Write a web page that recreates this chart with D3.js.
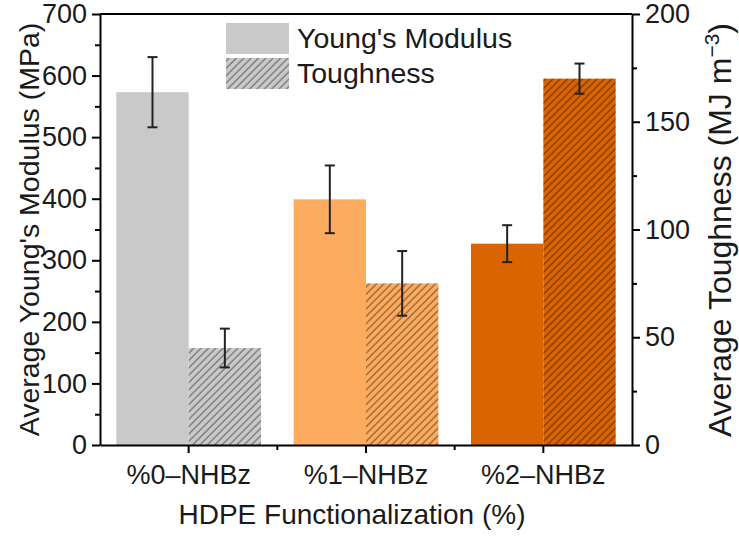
<!DOCTYPE html>
<html>
<head>
<meta charset="utf-8">
<script src="https://cdn.jsdelivr.net/npm/d3@7"></script>
<style>
  body { margin: 0; background: #fff; }
  text { font-family: "Liberation Sans", Arial, sans-serif; fill: #1a1a1a; }
</style>
</head>
<body>
<svg id="chart"></svg>
<script>
// data
const categories = ['%0–NHBz', '%1–NHBz', '%2–NHBz']
const modulus = [573, 399, 327]
const modulusErr = [57, 55, 30]
const toughness = [45, 75, 170]
const toughnessErr = [9, 15, 7]
const colors = ['#c9c9c9', '#fdab5f', '#d96400']
const leftTicks = [0, 100, 200, 300, 400, 500, 600, 700]
const rightTicks = [0, 50, 100, 150, 200]

const width = 739, height = 538
const margin = { top: 14, right: 107, bottom: 93, left: 100 }
const innerWidth = width - margin.left - margin.right
const innerHeight = height - margin.top - margin.bottom

const svg = d3.select('#chart')
  .attr('width', width)
  .attr('height', height)

// hatch patterns, one per colour
const step = 5.2
const defs = svg.append('defs')
colors.forEach((c, i) => {
  const p = defs.append('pattern')
    .attr('id', 'hatch' + i)
    .attr('patternUnits', 'userSpaceOnUse')
    .attr('width', step)
    .attr('height', step)
    .attr('patternTransform', 'rotate(45)')
  p.append('rect').attr('width', step).attr('height', step).attr('fill', c)
  p.append('line')
    .attr('x1', 1).attr('x2', 1).attr('y1', 0).attr('y2', step)
    .attr('stroke', 'rgba(0,0,0,0.42)')
    .attr('stroke-width', 1.3)
})

const g = svg.append('g')
  .attr('transform', `translate(${margin.left},${margin.top})`)

// scales
const x0 = d3.scaleBand()
  .domain(categories)
  .range([0, innerWidth])
  .padding(0)

const bw = x0.bandwidth()
const x1 = d3.scaleBand()
  .domain(['modulus', 'toughness'])
  .range([bw * 0.092, bw * 0.908])
  .padding(0)

const yLeft = d3.scaleLinear().domain([0, 700]).range([innerHeight, 0])
const yRight = d3.scaleLinear().domain([0, 200]).range([innerHeight, 0])

// bars
const groups = g.selectAll('.grp')
  .data(categories)
  .join('g')
  .attr('class', 'grp')
  .attr('transform', d => `translate(${x0(d)},0)`)

groups.append('rect')
  .attr('x', x1('modulus'))
  .attr('width', x1.bandwidth())
  .attr('y', (d, i) => yLeft(modulus[i]))
  .attr('height', (d, i) => innerHeight - yLeft(modulus[i]))
  .attr('fill', (d, i) => colors[i])

groups.append('rect')
  .attr('x', x1('toughness'))
  .attr('width', x1.bandwidth())
  .attr('y', (d, i) => yRight(toughness[i]))
  .attr('height', (d, i) => innerHeight - yRight(toughness[i]))
  .attr('fill', (d, i) => `url(#hatch${i})`)

// error bars
function errorBar(sel, xPos, yScale, vals, errs) {
  const cap = 5
  const eb = sel.append('g').attr('stroke', '#222').attr('stroke-width', 2)
  eb.append('line')
    .attr('x1', xPos).attr('x2', xPos)
    .attr('y1', (d, i) => yScale(vals[i] + errs[i]))
    .attr('y2', (d, i) => yScale(vals[i] - errs[i]))
  eb.append('line')
    .attr('x1', xPos - cap).attr('x2', xPos + cap)
    .attr('y1', (d, i) => yScale(vals[i] + errs[i]))
    .attr('y2', (d, i) => yScale(vals[i] + errs[i]))
  eb.append('line')
    .attr('x1', xPos - cap).attr('x2', xPos + cap)
    .attr('y1', (d, i) => yScale(vals[i] - errs[i]))
    .attr('y2', (d, i) => yScale(vals[i] - errs[i]))
}
errorBar(groups, x1('modulus') + x1.bandwidth() / 2, yLeft, modulus, modulusErr)
errorBar(groups, x1('toughness') + x1.bandwidth() / 2, yRight, toughness, toughnessErr)

// axes
const axisStyle = a => {
  a.select('.domain').attr('stroke', '#000').attr('stroke-width', 2)
  a.selectAll('.tick line').attr('stroke', '#000').attr('stroke-width', 2)
  a.selectAll('.tick text')
    .style('font-family', '"Liberation Sans", Arial, sans-serif')
    .style('font-size', '27px')
    .attr('fill', '#1a1a1a')
}

// minor ticks first so major ticks draw on top
const minorLeft = d3.range(50, 700, 100)
g.append('g')
  .call(d3.axisLeft(yLeft).tickValues(minorLeft).tickSize(5).tickFormat(''))
  .call(a => a.select('.domain').remove())
  .call(a => a.selectAll('line').attr('stroke', '#000').attr('stroke-width', 2))

g.append('g')
  .call(d3.axisLeft(yLeft).tickValues(leftTicks).tickSize(8).tickPadding(5).tickSizeOuter(0))
  .call(axisStyle)

const minorRight = [25, 75, 125, 175]
g.append('g')
  .attr('transform', `translate(${innerWidth},0)`)
  .call(d3.axisRight(yRight).tickValues(minorRight).tickSize(5).tickFormat(''))
  .call(a => a.select('.domain').remove())
  .call(a => a.selectAll('line').attr('stroke', '#000').attr('stroke-width', 2))

g.append('g')
  .attr('transform', `translate(${innerWidth},0)`)
  .call(d3.axisRight(yRight).tickValues(rightTicks).tickSize(8).tickPadding(5).tickSizeOuter(0))
  .call(axisStyle)

// bottom axis with minor ticks between groups
const minorX = categories.slice(1).map(c => x0(c))
g.append('g')
  .attr('transform', `translate(0,${innerHeight})`)
  .selectAll('line')
  .data(minorX)
  .join('line')
  .attr('x1', d => d).attr('x2', d => d)
  .attr('y1', 0).attr('y2', 5)
  .attr('stroke', '#000').attr('stroke-width', 2)

g.append('g')
  .attr('transform', `translate(0,${innerHeight})`)
  .call(d3.axisBottom(x0).tickSize(8).tickPadding(12).tickSizeOuter(0))
  .call(axisStyle)

// top border
g.append('line')
  .attr('x1', 0).attr('x2', innerWidth)
  .attr('y1', 0).attr('y2', 0)
  .attr('stroke', '#000').attr('stroke-width', 2)

// axis titles
svg.append('text')
  .attr('transform', `translate(352,${height - 14})`)
  .attr('text-anchor', 'middle')
  .style('font-size', '28px')
  .text('HDPE Functionalization (%)')

svg.append('text')
  .attr('transform', `translate(39,${margin.top + innerHeight / 2}) rotate(-90)`)
  .attr('text-anchor', 'middle')
  .style('font-size', '28.5px')
  .text("Average Young's Modulus (MPa)")

const rt = svg.append('text')
  .attr('transform', `translate(731,230) rotate(-90)`)
  .attr('text-anchor', 'middle')
  .style('font-size', '32px')
rt.append('tspan').text('Average Toughness (MJ m')
rt.append('tspan').attr('dy', -12).style('font-size', '21px').text('−3')
rt.append('tspan').attr('dy', 12).text(')')

// legend
const legendItems = ["Young's Modulus", 'Toughness']
const leg = svg.append('g').attr('transform', 'translate(226,23)')
leg.selectAll('rect')
  .data(legendItems)
  .join('rect')
  .attr('x', 0)
  .attr('y', (d, i) => i * 35)
  .attr('width', 63)
  .attr('height', 31)
  .attr('fill', (d, i) => i === 0 ? colors[0] : 'url(#hatch0)')
leg.selectAll('text')
  .data(legendItems)
  .join('text')
  .attr('x', 71)
  .attr('y', (d, i) => i * 35 + 25)
  .style('font-size', '28.5px')
  .text(d => d)
</script>
</body>
</html>
